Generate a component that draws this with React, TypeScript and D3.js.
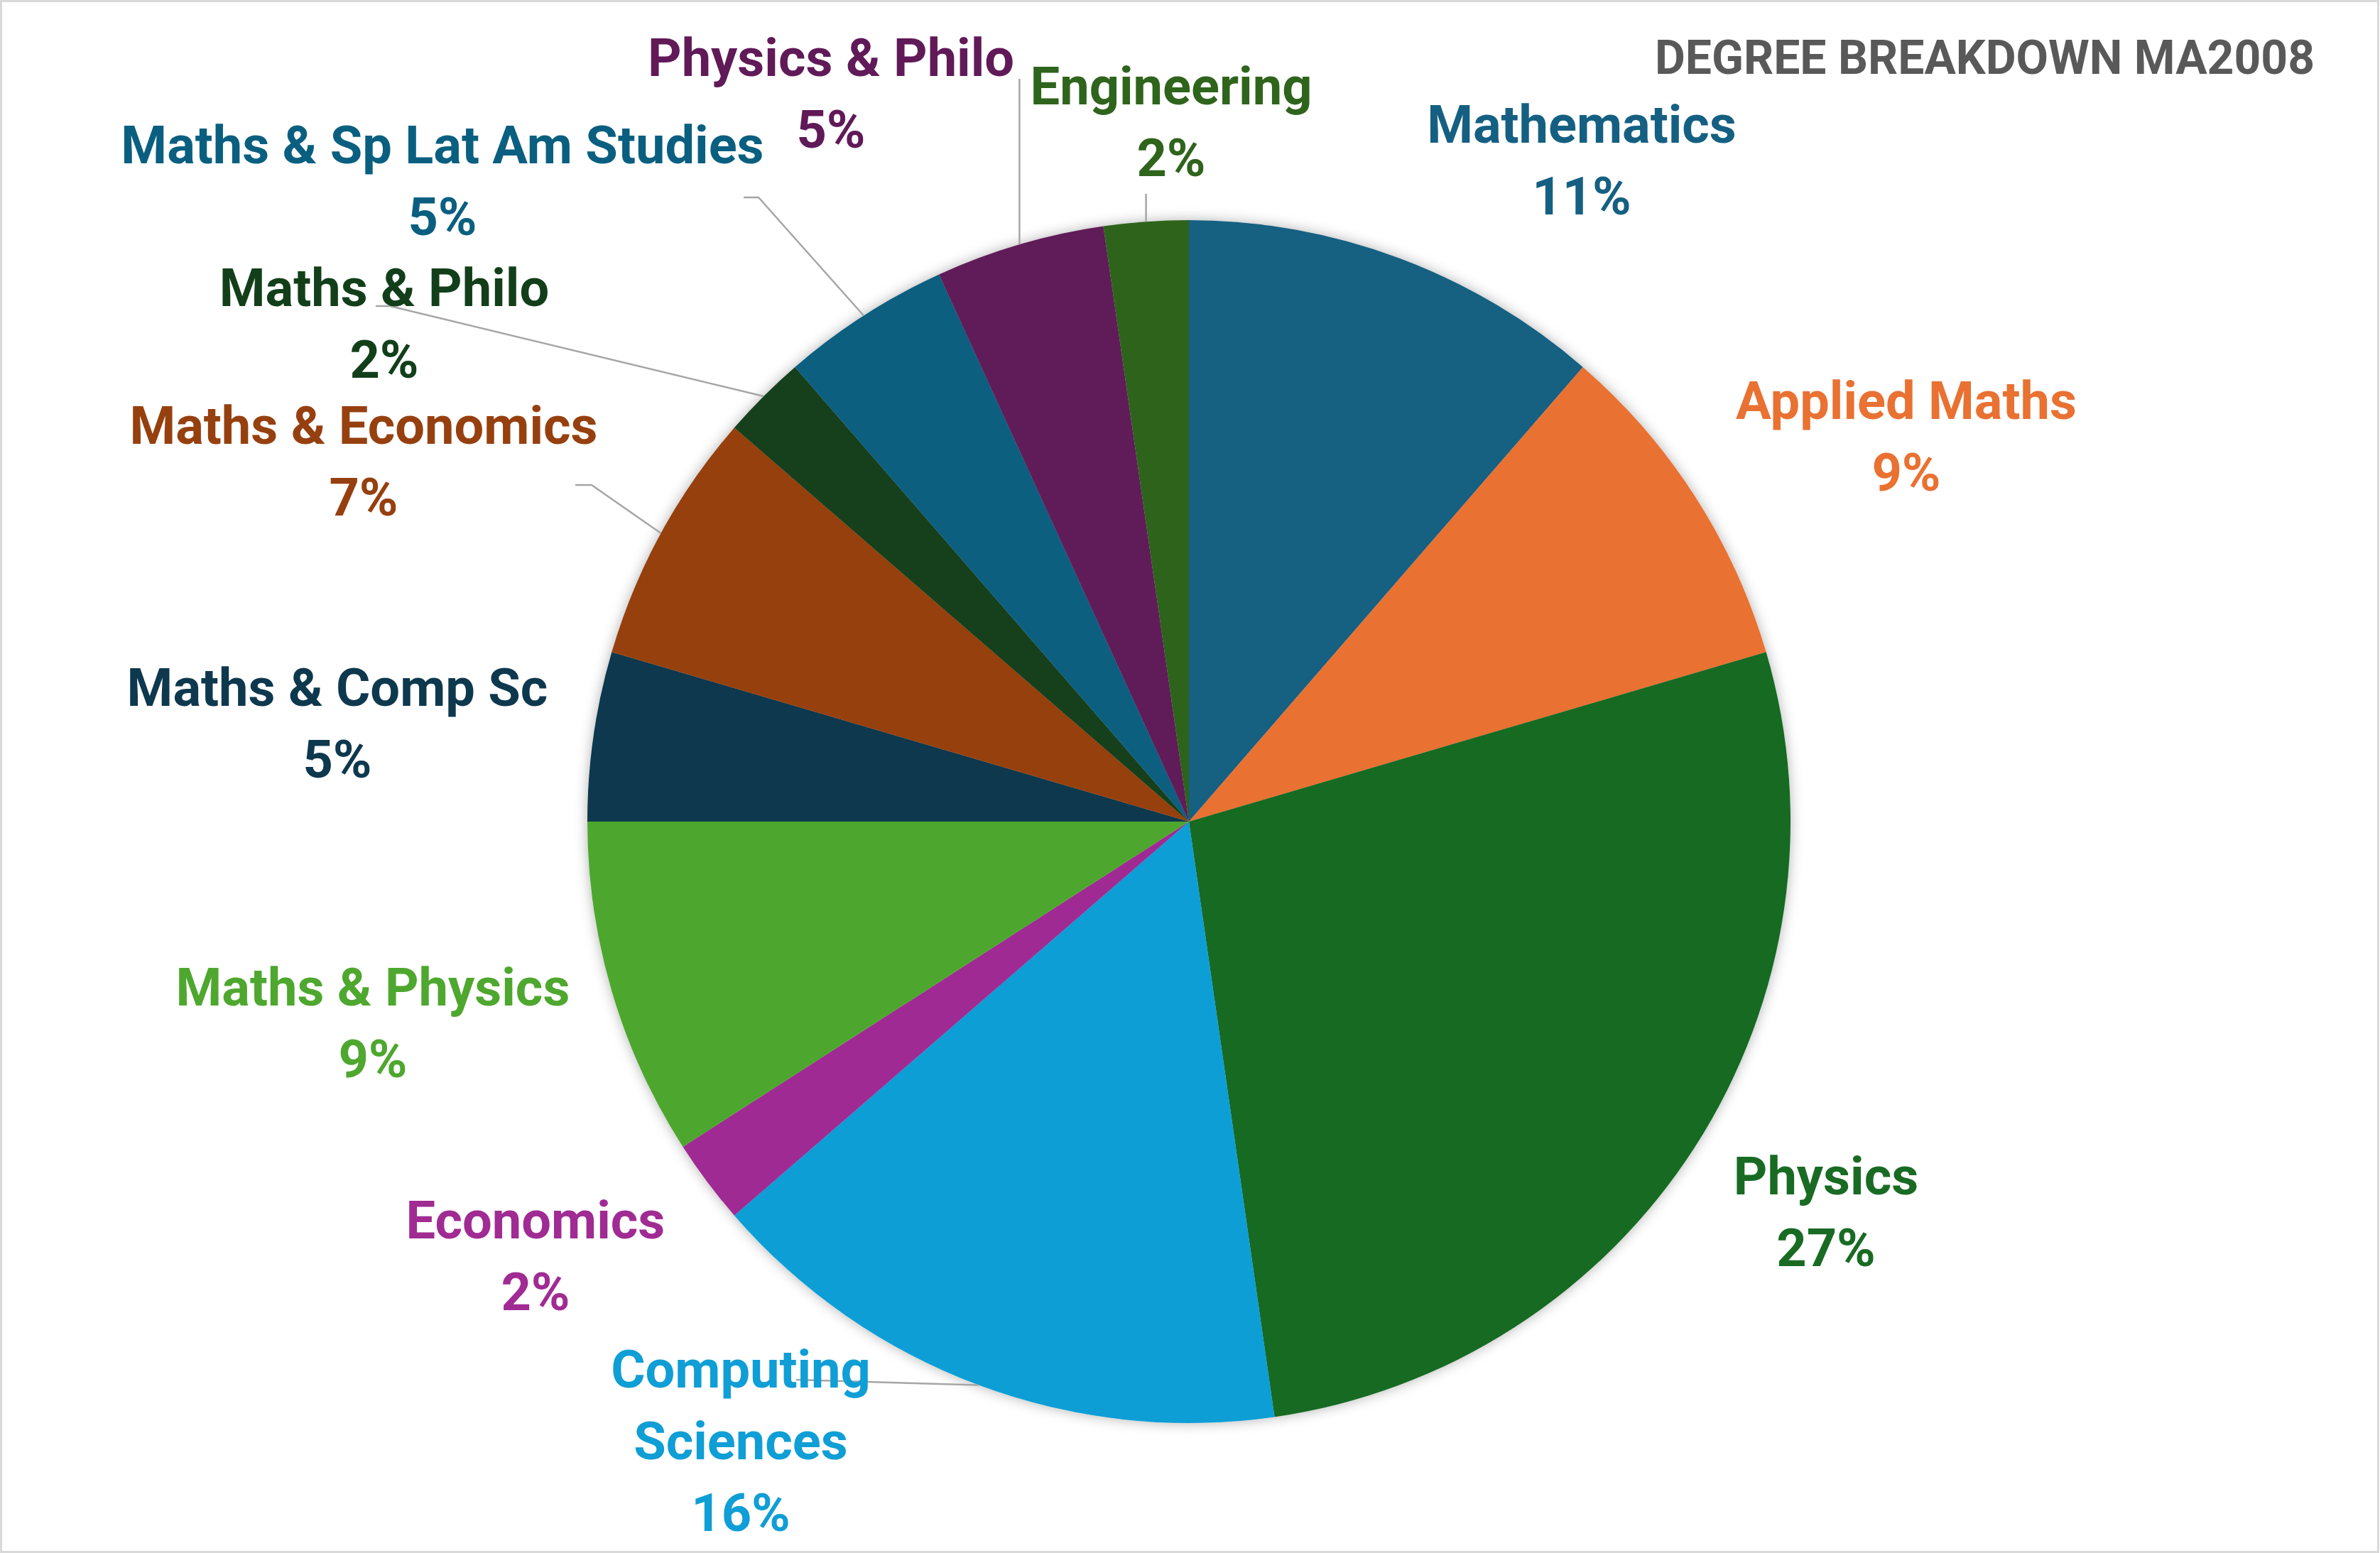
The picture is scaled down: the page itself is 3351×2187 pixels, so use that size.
import { FC, useEffect, useRef } from "react";
import * as d3 from "d3";

// degree counts, clockwise from 12 o'clock
const degrees = [
  "Mathematics",
  "Applied Maths",
  "Physics",
  "Computing Sciences",
  "Economics",
  "Maths & Physics",
  "Maths & Comp Sc",
  "Maths & Economics",
  "Maths & Philo",
  "Maths & Sp Lat Am Studies",
  "Physics & Philo",
  "Engineering",
];
const students = [5, 4, 12, 7, 1, 4, 2, 3, 1, 2, 2, 1];
const sliceColors = [
  "#156082",
  "#E97132",
  "#196B24",
  "#0F9ED5",
  "#A02B93",
  "#4EA72E",
  "#0E384E",
  "#96400F",
  "#123F1A",
  "#0A5F80",
  "#601A58",
  "#2F641C",
];
const title = "DEGREE BREAKDOWN MA2008";

// label layout: centre x, first baseline y
const labelPos: [number, number][] = [
  [2227, 201],
  [2684, 590],
  [2571, 1682],
  [1043, 1954],
  [754, 1744],
  [525, 1416],
  [475, 994],
  [512, 625],
  [541, 431],
  [623, 230],
  [1170, 107],
  [1649, 147],
];
// leader line ends near the label (null = no leader); optional short stub
const leaderEnd: ([number, number, number] | null)[] = [
  null,
  null,
  null,
  [1121, 1943, 1121],
  null,
  null,
  null,
  [810, 683, 833],
  [529, 431, 549],
  [1047, 278, 1068],
  [0, 111, 0],
  [0, 273, 0],
];

const W = 3351;
const H = 2187;
const LINE = 101;

const App: FC = () => {
  const ref = useRef<SVGSVGElement>(null);

  useEffect(() => {
    const svg = d3.select(ref.current);
    svg.selectAll("*").remove();

    const cx = 1674;
    const cy = 1157;
    const r = 847;
    const total = d3.sum(students);
    const fmt = d3.format(".0%");

    const defs = svg.append("defs");
    const f = defs
      .append("filter")
      .attr("id", "shadow")
      .attr("x", "-10%")
      .attr("y", "-10%")
      .attr("width", "120%")
      .attr("height", "120%");
    f.append("feDropShadow")
      .attr("dx", 0)
      .attr("dy", 0)
      .attr("stdDeviation", 9)
      .attr("flood-color", "#000")
      .attr("flood-opacity", 0.3);

    svg
      .append("rect")
      .attr("x", 1.5)
      .attr("y", 1.5)
      .attr("width", W - 4)
      .attr("height", H - 3)
      .attr("fill", "#fff")
      .attr("stroke", "#d9d9d9")
      .attr("stroke-width", 3);

    const pie = d3
      .pie<number>()
      .sort(null)
      .value((d) => d);
    const arcs = pie(students);
    const arc = d3.arc<d3.PieArcDatum<number>>().innerRadius(0).outerRadius(r);

    const g = svg.append("g").attr("transform", `translate(${cx},${cy})`);
    g.append("g")
      .attr("filter", "url(#shadow)")
      .selectAll("path")
      .data(arcs)
      .enter()
      .append("path")
      .attr("d", arc)
      .attr("fill", (_, i) => sliceColors[i]);

    // leader lines
    arcs.forEach((a, i) => {
      const le = leaderEnd[i];
      if (!le) return;
      const mid = (a.startAngle + a.endAngle) / 2;
      const ex = cx + r * Math.sin(mid);
      const ey = cy - r * Math.cos(mid);
      let pts: [number, number][];
      if (le[0] === 0) {
        pts = [
          [ex, ey],
          [ex, le[1]],
        ];
      } else {
        pts = [
          [ex, ey],
          [le[2], le[1]],
          [le[0], le[1]],
        ];
      }
      svg
        .append("path")
        .attr("d", d3.line()(pts))
        .attr("fill", "none")
        .attr("stroke", "#a6a6a6")
        .attr("stroke-width", 2.5);
    });

    // labels
    degrees.forEach((name, i) => {
      const lines =
        name === "Computing Sciences" ? ["Computing", "Sciences"] : [name];
      lines.push(fmt(students[i] / total));
      const t = svg
        .append("text")
        .attr("text-anchor", "middle")
        .attr("fill", sliceColors[i])
        .style("font-family", "Roboto, 'Liberation Sans', sans-serif")
        .style("font-weight", 700)
        .style("font-size", "74px");
      lines.forEach((s, j) => {
        t.append("tspan")
          .attr("x", labelPos[i][0])
          .attr("y", labelPos[i][1] + j * LINE)
          .text(s);
      });
    });

    svg
      .append("text")
      .attr("x", 3259)
      .attr("y", 104)
      .attr("text-anchor", "end")
      .attr("fill", "#595959")
      .style("font-family", "Roboto, 'Liberation Sans', sans-serif")
      .style("font-weight", 700)
      .style("font-size", "66px")
      .text(title);
  }, []);

  return (
    <svg
      ref={ref}
      width={W}
      height={H}
      style={{ position: "absolute", left: 0, top: 0, display: "block" }}
    />
  );
};

export default App;
